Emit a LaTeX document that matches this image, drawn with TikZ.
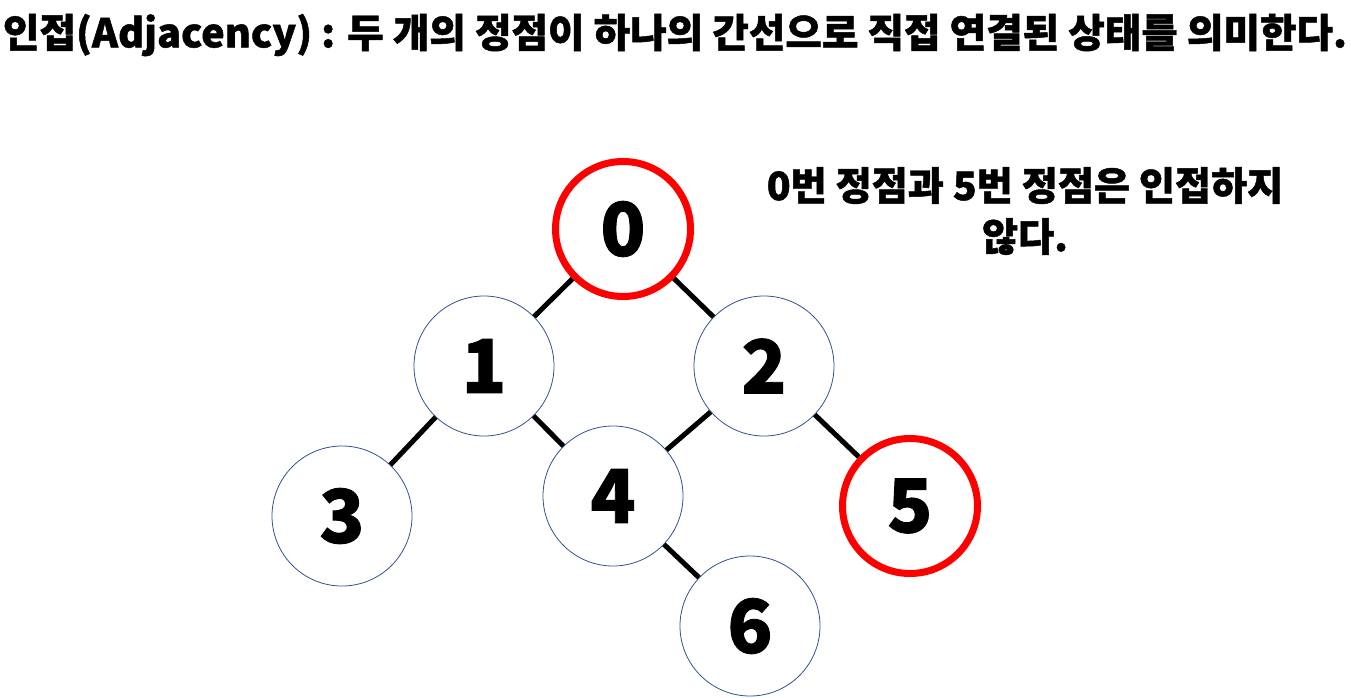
\documentclass[tikz,border=0pt]{standalone}
\usepackage{fontspec}
\setmainfont{Noto Sans CJK KR Black}[FakeBold=1.2]
\usetikzlibrary{positioning}
\definecolor{ringblue}{HTML}{2F528F}
\definecolor{ringred}{HTML}{FF0000}

\begin{document}
\begin{tikzpicture}[x=1pt,y=-1pt,
    vtx/.style={circle,draw=ringblue,line width=0.8pt,minimum size=140pt,inner sep=0pt,font=\fontsize{74}{74}\selectfont},
    mark red/.style={draw=ringred,line width=7pt,minimum size=135pt},
    link/.style={line width=5pt,black}]
    \useasboundingbox (0,0) rectangle (1351,698);
    \node[font=\fontsize{39.7}{40}\selectfont] (title) at (675,35) {인접(Adjacency) : 두 개의 정점이 하나의 간선으로 직접 연결된 상태를 의미한다.};
    \node[vtx,mark red] (v0) at (623,229) {0};
    \node[vtx] (v1) at (484,366) {1};
    \node[vtx] (v2) at (764,366) {2};
    \node[vtx] (v3) at (342,516) {3};
    \node[vtx] (v4) at (613,496) {4};
    \node[vtx,mark red] (v5) at (910,506) {5};
    \node[vtx] (v6) at (750,626) {6};
    \draw[link] (v0) edge (v1);
    \draw[link] (v0) edge (v2);
    \draw[link] (v1) edge (v3);
    \draw[link] (v1) edge (v4);
    \draw[link] (v2) edge (v4);
    \draw[link] (v2) edge (v5);
    \draw[link] (v4) edge (v6);
    \node[font=\fontsize{39.2}{51}\selectfont,align=center] (note) at (1025,211) {0번 정점과 5번 정점은 인접하지\\않다.};
\end{tikzpicture}
\end{document}
